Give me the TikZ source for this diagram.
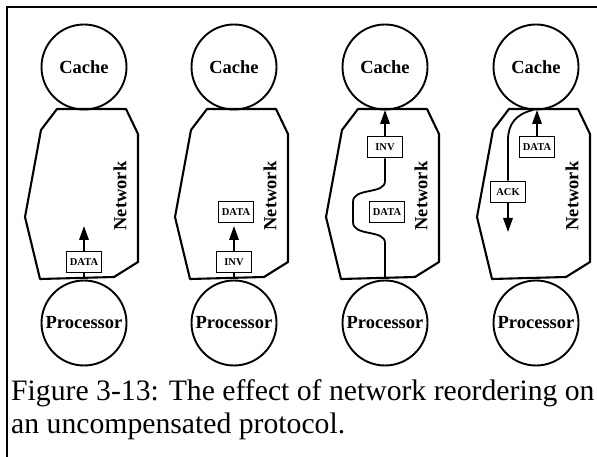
\documentclass[tikz,border=0pt]{standalone}
\usepackage{fontspec}
\setmainfont{Liberation Serif}
\usetikzlibrary{arrows.meta}
\begin{document}
\begin{tikzpicture}[x=1pt,y=-1pt,
  netline/.style={line width=2.1pt, line join=round},
  unit/.style={circle, draw, line width=1.9pt, minimum size=85pt, inner sep=0pt, font=\fontsize{18.5}{20}\selectfont\bfseries},
  msg/.style={draw, line width=1.8pt, fill=white, minimum width=35pt, minimum height=21pt, inner sep=1pt, font=\fontsize{10.5}{11}\selectfont\bfseries},
  flow/.style={line width=1.8pt},
  arr/.style={line width=1.8pt, -{Triangle[length=14pt,width=9.5pt]}},
  netlabel/.style={rotate=90, font=\fontsize{18.5}{20}\selectfont\bfseries},
  captext/.style={anchor=base west, inner sep=0pt, font=\fontsize{29.7}{33}\selectfont}
]
\useasboundingbox (0,0) rectangle (597,457);
\draw[line width=1.3pt] (597,7) -- (7,7) -- (7,457);
\foreach \i/\cx in {1/84,2/234,3/385,4/536}{
  \begin{scope}[xshift=\cx pt]
  \draw[netline] (-27,109) -- (42,109) -- (54,134) -- (54,262) -- (30,277) -- (-44,279) -- (-59,217) -- (-43,130) -- cycle;
  \node[unit] (c\i) at (0,67) {\raisebox{-3pt}{Cache}};
  \node[unit] (p\i) at (0,323) {Processor};
  \node[netlabel] (n\i) at (36,196) {Network};
  \end{scope}
}
% column 1
\coordinate (b1) at (84,278);
\coordinate (t1) at (84,226);
\node[msg] (m1a) at (84,262) {DATA};
\draw[flow] (b1) -- (m1a.south);
\draw[arr] (m1a.north) -- (t1);
% column 2
\coordinate (b2) at (234,278);
\coordinate (t2) at (234,226);
\node[msg] (m2a) at (234,262) {INV};
\node[msg] (m2b) at (236,212) {DATA};
\draw[flow] (b2) -- (m2a.south);
\draw[arr] (m2a.north) -- (t2);
% column 3
\coordinate (b3) at (385,278);
\coordinate (t3) at (385,110);
\node[msg] (m3a) at (385,147) {INV};
\node[msg] (m3b) at (387,212) {DATA};
\draw[flow] (b3) -- (385,243) .. controls (385,229) and (353,237) .. (353,222) -- (353,202) .. controls (353,187) and (385,195) .. (385,181) -- (m3a.south);
\draw[arr] (m3a.north) -- (t3);
% column 4
\coordinate (t4) at (537,110);
\coordinate (s4) at (533,110);
\coordinate (e4) at (508,232);
\node[msg] (m4a) at (537,147) {DATA};
\node[msg] (m4b) at (508,192) {ACK};
\draw[arr] (m4a.north) -- (t4);
\draw[flow] (s4) .. controls (516,114) and (508,124) .. (508,140) -- (m4b.north);
\draw[arr] (m4b.south) -- (e4);
% caption
\node[captext] (cap1) at (11,400) {Figure 3-13: The effect of network reordering on};
\node[captext] (cap2) at (11,433) {an uncompensated protocol.};
\end{tikzpicture}
\end{document}
